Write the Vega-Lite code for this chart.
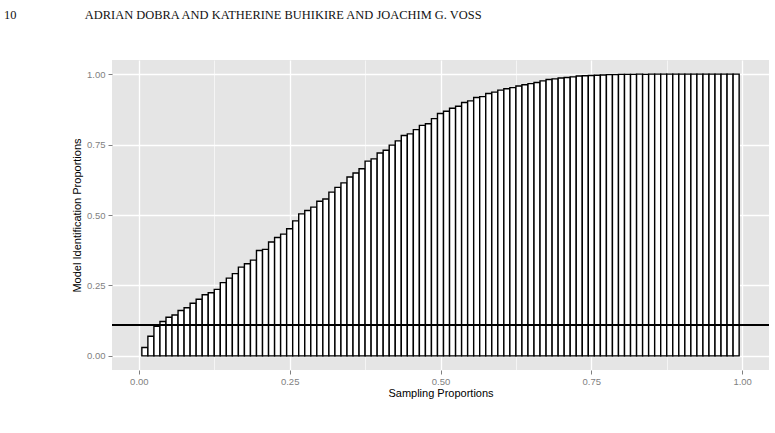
{
  "$schema": "https://vega.github.io/schema/vega-lite/v6.json",
  "autosize": "none",
  "width": 657,
  "height": 310,
  "padding": {"left": 112, "top": 60, "right": 6, "bottom": 63},
  "background": "white",
  "title": {
    "text": "10\u00a0\u00a0\u00a0\u00a0\u00a0\u00a0\u00a0\u00a0\u00a0\u00a0\u00a0\u00a0\u00a0\u00a0\u00a0\u00a0\u00a0\u00a0\u00a0\u00a0\u00a0\u00a0ADRIAN DOBRA AND KATHERINE BUHIKIRE AND JOACHIM G. VOSS",
    "anchor": "start",
    "frame": "group",
    "dx": -108,
    "offset": 29,
    "baseline": "alphabetic",
    "font": "Liberation Serif",
    "fontSize": 12.45,
    "fontWeight": "normal",
    "color": "#111111"
  },
  "config": {
    "view": {"stroke": null, "fill": "#e5e5e5"},
    "axis": {
      "domain": false,
      "labelFont": "Liberation Sans",
      "labelFontSize": 9.5,
      "labelColor": "#7f7f7f",
      "titleFont": "Liberation Sans",
      "titleFontSize": 11,
      "titleFontWeight": "normal",
      "titleColor": "#000000",
      "tickColor": "#7f7f7f",
      "tickSize": 4,
      "labelOverlap": false,
      "labelFlush": false,
      "gridColor": "#ffffff",
      "gridOpacity": 1
    }
  },
  "data": {
    "values": [
      {"p": 0.01, "v": 0.030}, {"p": 0.02, "v": 0.070}, {"p": 0.03, "v": 0.105}, {"p": 0.04, "v": 0.122},
      {"p": 0.05, "v": 0.137}, {"p": 0.06, "v": 0.145}, {"p": 0.07, "v": 0.161}, {"p": 0.08, "v": 0.171},
      {"p": 0.09, "v": 0.187}, {"p": 0.10, "v": 0.201}, {"p": 0.11, "v": 0.217}, {"p": 0.12, "v": 0.224},
      {"p": 0.13, "v": 0.236}, {"p": 0.14, "v": 0.260}, {"p": 0.15, "v": 0.276}, {"p": 0.16, "v": 0.292},
      {"p": 0.17, "v": 0.315}, {"p": 0.18, "v": 0.327}, {"p": 0.19, "v": 0.340}, {"p": 0.20, "v": 0.374},
      {"p": 0.21, "v": 0.378}, {"p": 0.22, "v": 0.404}, {"p": 0.23, "v": 0.420}, {"p": 0.24, "v": 0.432},
      {"p": 0.25, "v": 0.451}, {"p": 0.26, "v": 0.479}, {"p": 0.27, "v": 0.504}, {"p": 0.28, "v": 0.516},
      {"p": 0.29, "v": 0.528}, {"p": 0.30, "v": 0.549}, {"p": 0.31, "v": 0.557}, {"p": 0.32, "v": 0.581},
      {"p": 0.33, "v": 0.598}, {"p": 0.34, "v": 0.614}, {"p": 0.35, "v": 0.635}, {"p": 0.36, "v": 0.649},
      {"p": 0.37, "v": 0.664}, {"p": 0.38, "v": 0.691}, {"p": 0.39, "v": 0.699}, {"p": 0.40, "v": 0.720},
      {"p": 0.41, "v": 0.730}, {"p": 0.42, "v": 0.748}, {"p": 0.43, "v": 0.763}, {"p": 0.44, "v": 0.782},
      {"p": 0.45, "v": 0.788}, {"p": 0.46, "v": 0.803}, {"p": 0.47, "v": 0.818}, {"p": 0.48, "v": 0.824},
      {"p": 0.49, "v": 0.842}, {"p": 0.50, "v": 0.860}, {"p": 0.51, "v": 0.868}, {"p": 0.52, "v": 0.879},
      {"p": 0.53, "v": 0.886}, {"p": 0.54, "v": 0.899}, {"p": 0.55, "v": 0.905}, {"p": 0.56, "v": 0.917},
      {"p": 0.57, "v": 0.920}, {"p": 0.58, "v": 0.931}, {"p": 0.59, "v": 0.936}, {"p": 0.60, "v": 0.943},
      {"p": 0.61, "v": 0.948}, {"p": 0.62, "v": 0.952}, {"p": 0.63, "v": 0.958}, {"p": 0.64, "v": 0.962},
      {"p": 0.65, "v": 0.966}, {"p": 0.66, "v": 0.970}, {"p": 0.67, "v": 0.976}, {"p": 0.68, "v": 0.981},
      {"p": 0.69, "v": 0.983}, {"p": 0.70, "v": 0.986}, {"p": 0.71, "v": 0.988}, {"p": 0.72, "v": 0.990},
      {"p": 0.73, "v": 0.993}, {"p": 0.74, "v": 0.994}, {"p": 0.75, "v": 0.995}, {"p": 0.76, "v": 0.996},
      {"p": 0.77, "v": 0.997}, {"p": 0.78, "v": 0.998}, {"p": 0.79, "v": 0.998}, {"p": 0.80, "v": 0.999},
      {"p": 0.81, "v": 0.999}, {"p": 0.82, "v": 0.999}, {"p": 0.83, "v": 1.000}, {"p": 0.84, "v": 0.999},
      {"p": 0.85, "v": 1.000}, {"p": 0.86, "v": 1.000}, {"p": 0.87, "v": 1.000}, {"p": 0.88, "v": 1.000},
      {"p": 0.89, "v": 1.000}, {"p": 0.90, "v": 1.000}, {"p": 0.91, "v": 1.000}, {"p": 0.92, "v": 1.000},
      {"p": 0.93, "v": 1.000}, {"p": 0.94, "v": 1.000}, {"p": 0.95, "v": 1.000}, {"p": 0.96, "v": 1.000},
      {"p": 0.97, "v": 1.000}, {"p": 0.98, "v": 1.000}, {"p": 0.99, "v": 1.000}
    ]
  },
  "layer": [
    {
      "mark": {"type": "bar", "fill": "#ffffff", "stroke": "#000000", "strokeWidth": 1.4, "size": 6.04},
      "encoding": {
        "x": {
          "field": "p",
          "type": "quantitative",
          "scale": {"domain": [-0.0445, 1.0445], "nice": false, "zero": false, "padding": 0},
          "axis": {
            "title": "Sampling Proportions",
            "values": [0, 0.125, 0.25, 0.375, 0.5, 0.625, 0.75, 0.875, 1],
            "labelExpr": "(datum.value * 4) % 1 === 0 ? format(datum.value, '.2f') : ''",
            "tickOpacity": {"condition": {"test": "(datum.value * 4) % 1 !== 0", "value": 0}, "value": 1},
            "gridWidth": {"condition": {"test": "(datum.value * 4) % 1 !== 0", "value": 0.6}, "value": 1.3},
            "labelPadding": 2,
            "titlePadding": 2
          }
        },
        "y": {
          "field": "v",
          "type": "quantitative",
          "scale": {"domain": [-0.05, 1.05], "nice": false, "zero": false, "padding": 0},
          "axis": {
            "title": "Model Identification Proportions",
            "values": [0, 0.125, 0.25, 0.375, 0.5, 0.625, 0.75, 0.875, 1],
            "labelExpr": "(datum.value * 4) % 1 === 0 ? format(datum.value, '.2f') : ''",
            "tickOpacity": {"condition": {"test": "(datum.value * 4) % 1 !== 0", "value": 0}, "value": 1},
            "gridWidth": {"condition": {"test": "(datum.value * 4) % 1 !== 0", "value": 0.6}, "value": 1.3},
            "labelPadding": 3,
            "titlePadding": 4
          }
        },
        "y2": {"datum": 0}
      }
    },
    {
      "mark": {"type": "rule", "color": "#000000", "strokeWidth": 2},
      "encoding": {"y": {"datum": 0.11}}
    }
  ]
}
